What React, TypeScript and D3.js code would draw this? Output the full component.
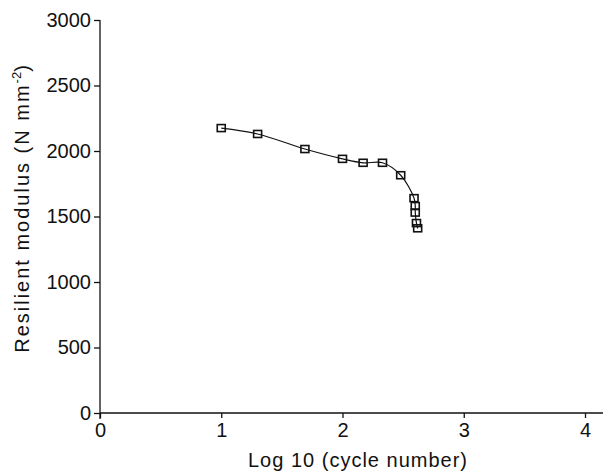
import React, { useEffect, useRef } from "react";
import * as d3 from "d3";

// log10 of cycle number
const logCycles = [1.0, 1.3, 1.69, 2.0, 2.17, 2.33, 2.48, 2.59, 2.6, 2.6, 2.61, 2.62];
// resilient modulus, N mm^-2
const modulus = [2175, 2130, 2015, 1940, 1910, 1910, 1815, 1640, 1580, 1530, 1450, 1410];

const xTicks = [0, 1, 2, 3, 4];
const yTicks = [0, 500, 1000, 1500, 2000, 2500, 3000];

const App = () => {
  const ref = useRef<SVGSVGElement>(null);

  useEffect(() => {
    const width = 606;
    const height = 472;
    const font = "'Liberation Sans', Arial, Helvetica, sans-serif";

    const svg = d3.select(ref.current).attr("width", width).attr("height", height);
    svg.selectAll("*").remove();

    const x = d3.scaleLinear().domain([0, 4]).range([100, 585]);
    const y = d3.scaleLinear().domain([0, 3000]).range([413, 20]);

    // y axis
    const yAxis = svg
      .append("g")
      .attr("transform", "translate(" + x(0) + ",0)")
      .call(d3.axisLeft(y).tickValues(yTicks).tickSize(6).tickPadding(3).tickFormat(d3.format("d")));
    yAxis.select(".domain").attr("d", "M0," + y(3000) + "V" + (y(0) + 6));
    yAxis.selectAll("text").style("font-family", font).style("font-size", "20px").attr("fill", "#111");

    // x axis
    const xAxis = svg
      .append("g")
      .attr("transform", "translate(0," + y(0) + ")")
      .call(d3.axisBottom(x).tickValues(xTicks).tickSize(5).tickPadding(5).tickFormat(d3.format("d")));
    xAxis.select(".domain").attr("d", "M" + x(0) + ",0H" + (x(4) + 18));
    xAxis.selectAll("text").style("font-family", font).style("font-size", "20px").attr("fill", "#111");
    svg.selectAll(".domain, .tick line").attr("stroke", "#111").attr("stroke-width", 1.3);

    // titles
    svg
      .append("text")
      .attr("x", 358)
      .attr("y", 467)
      .attr("text-anchor", "middle")
      .style("font-family", font)
      .style("font-size", "20px")
      .style("letter-spacing", "1px")
      .attr("fill", "#111")
      .text("Log 10 (cycle number)");

    const yt = svg
      .append("text")
      .attr("transform", "translate(29,208) rotate(-90)")
      .attr("text-anchor", "middle")
      .style("font-family", font)
      .style("font-size", "20px")
      .style("letter-spacing", "2px")
      .attr("fill", "#111");
    yt.append("tspan").text("Resilient modulus (N mm");
    yt.append("tspan").attr("dy", -8).style("font-size", "13px").style("letter-spacing", "0px").text("-2");
    yt.append("tspan").attr("dy", 8).text(")");

    // line
    const pts = logCycles.map((d, i) => [d, modulus[i]] as [number, number]);
    const line = d3
      .line<[number, number]>()
      .x((d) => x(d[0]))
      .y((d) => y(d[1]))
      .curve(d3.curveCatmullRom);
    svg
      .append("path")
      .attr("d", line(pts))
      .attr("fill", "none")
      .attr("stroke", "#111")
      .attr("stroke-width", 1.2);

    // markers
    svg
      .selectAll("rect.pt")
      .data(pts)
      .enter()
      .append("rect")
      .attr("class", "pt")
      .attr("x", (d) => x(d[0]) - 4)
      .attr("y", (d) => y(d[1]) - 3.5)
      .attr("width", 8)
      .attr("height", 7)
      .attr("fill", "none")
      .attr("stroke", "#111")
      .attr("stroke-width", 1.6);
  }, []);

  return (
    <div style={{ position: "absolute", left: 0, top: 0 }}>
      <svg ref={ref}></svg>
    </div>
  );
};

export default App;
